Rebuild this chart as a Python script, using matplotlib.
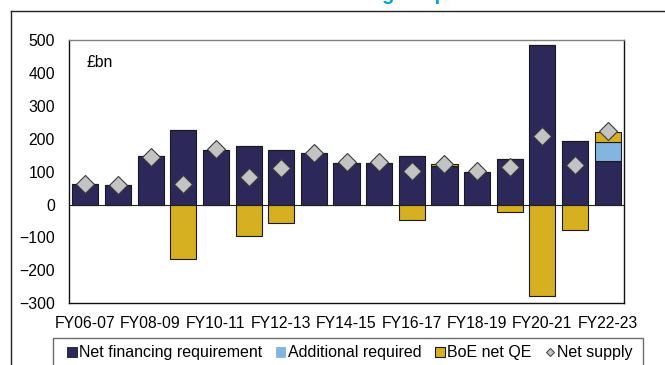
import numpy as np
import matplotlib.pyplot as plt
from matplotlib.lines import Line2D
from matplotlib.patches import Rectangle, Patch

plt.rcParams['font.family'] = ['Liberation Sans', 'DejaVu Sans']

# £bn, financial years FY06-07 .. FY22-23
years = ['FY06-07', 'FY07-08', 'FY08-09', 'FY09-10', 'FY10-11', 'FY11-12',
         'FY12-13', 'FY13-14', 'FY14-15', 'FY15-16', 'FY16-17', 'FY17-18',
         'FY18-19', 'FY19-20', 'FY20-21', 'FY21-22', 'FY22-23']
net_financing = [62, 59, 147, 227, 167, 179, 165, 156, 127, 127, 147, 117,
                 100, 138, 485, 194, 131]
additional = [0, 0, 0, 0, 0, 0, 0, 0, 0, 0, 0, 0, 0, 0, 0, 0, 60]
boe_qe = [0, 0, 0, -166, 0, -94, -56, 0, 0, 0, -46, 5, 0, -23, -277, -76, 30]
net_supply = [63, 60, 146, 63, 168, 85, 111, 157, 128, 129, 101, 122, 102,
              115, 209, 120, 222]

navy = '#2D285A'
light_blue = '#84B4E2'
gold = '#D6B021'
edge = '#1a1a1a'

x = np.arange(len(years))
nfr = np.array(net_financing)
add = np.array(additional)
qe = np.array(boe_qe)
qe_bottom = np.where(qe > 0, nfr + add, 0)

fig = plt.figure(figsize=(6.65, 3.65), dpi=100)
ax = fig.add_axes([69 / 665, 1 - 303.3 / 365, 555 / 665, 263.3 / 365])

w = 0.8
ax.bar(x, nfr, w, color=navy, edgecolor=edge, linewidth=0.8, zorder=2)
ax.bar(x, add, w, bottom=nfr, color=light_blue, edgecolor=edge, linewidth=0.8,
       zorder=2)
ax.bar(x, qe, w, bottom=qe_bottom, color=gold, edgecolor=edge, linewidth=0.8,
       zorder=2)
ax.axhline(0, color='#222222', linewidth=0.8, zorder=3)
ax.plot(x, net_supply, linestyle='none', marker='D', markersize=9.3,
        markerfacecolor='#C3C3C3', markeredgecolor='#3a3a3a',
        markeredgewidth=0.8, zorder=4)

ax.set_xlim(-0.5, len(years) - 0.5)
ax.set_ylim(-300, 500)
ax.set_yticks(np.arange(-300, 501, 100))
ax.set_xticks(x[::2])
ax.set_xticklabels(years[::2])
ax.tick_params(axis='both', length=0, labelsize=11.3, colors='black')
ax.tick_params(axis='y', pad=10)
ax.tick_params(axis='x', pad=9)
for side in ['left', 'bottom', 'right']:
    ax.spines[side].set_color('#111111')
    ax.spines[side].set_linewidth(1)
ax.spines['top'].set_color('#808080')
ax.spines['top'].set_linewidth(1)

ax.text(0.031, 0.915, '£bn', transform=ax.transAxes, fontsize=11.3,
        va='center', ha='left')

# outer panel frame
fig.add_artist(Line2D([11 / 665, 1.0], [1 - 10.7 / 365] * 2,
                      color='#222222', linewidth=1))
fig.add_artist(Line2D([11 / 665] * 2, [0, 1 - 10.7 / 365],
                      color='#222222', linewidth=1))

# title sitting above the panel
fig.text(447 / 665, 1.0, 'Net financing is up', color='#00A3E0',
         fontsize=14.5, fontweight='bold', ha='right', va='baseline')

# legend box
fig.add_artist(Rectangle((53 / 665, -0.05), 590 / 665, 0.05 + 1 - 338 / 365,
                         transform=fig.transFigure, fill=False,
                         edgecolor='#6b6b6b', linewidth=1))
handles = [
    Patch(facecolor=navy, edgecolor=edge, linewidth=0.6),
    Patch(facecolor=light_blue, edgecolor=light_blue, linewidth=0.6),
    Patch(facecolor=gold, edgecolor=edge, linewidth=0.8),
    Line2D([], [], linestyle='none', marker='D', markersize=4.5,
           markerfacecolor='#C3C3C3', markeredgecolor='#3a3a3a',
           markeredgewidth=0.7),
]
labels = ['Net financing requirement', 'Additional required', 'BoE net QE',
          'Net supply']
fig.legend(handles, labels, ncol=4, frameon=False, loc='center left',
           bbox_to_anchor=(67 / 665, 1 - 353 / 365), fontsize=11.5,
           handlelength=0.6, handleheight=0.6, handletextpad=0.15,
           columnspacing=0.85, borderpad=0, borderaxespad=0)

fig.savefig('out.png', dpi=100)
